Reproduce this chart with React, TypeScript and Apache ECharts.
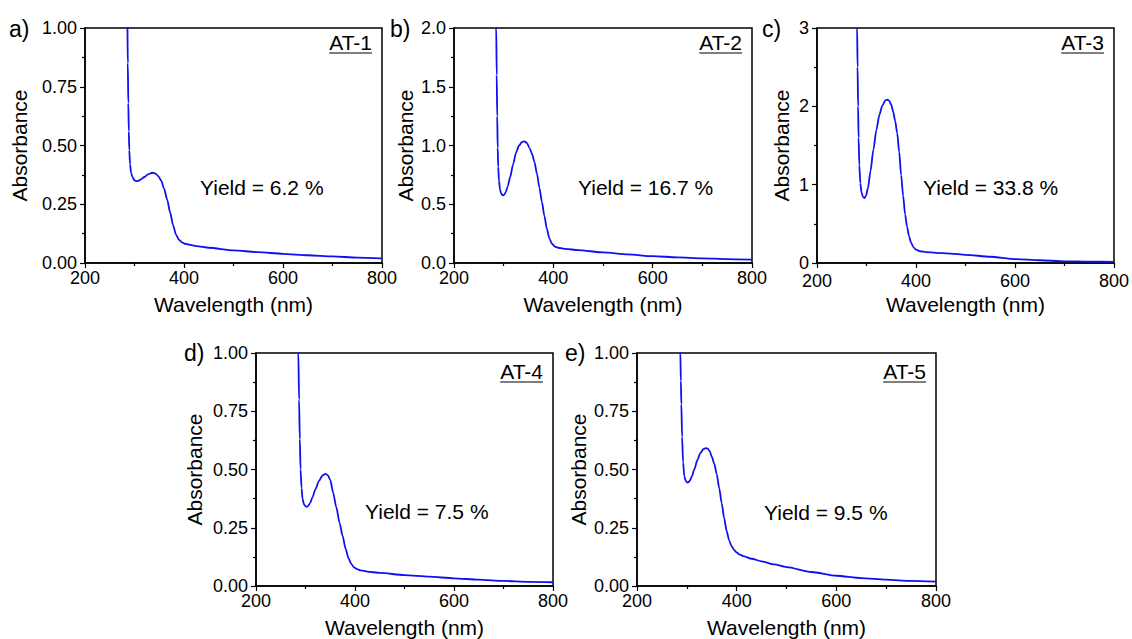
import React, { useEffect, useRef } from 'react';
import * as echarts from 'echarts';

const panelLabels = ['a)', 'b)', 'c)', 'd)', 'e)'];
const sampleNames = ['AT-1', 'AT-2', 'AT-3', 'AT-4', 'AT-5'];
const yieldTexts = ['Yield = 6.2 %', 'Yield = 16.7 %', 'Yield = 33.8 %', 'Yield = 7.5 %', 'Yield = 9.5 %'];
const yMaxes = [1, 2, 3, 1, 1];
const yIntervals = [0.25, 0.5, 1, 0.25, 0.25];
const yDecimals = [2, 1, 0, 2, 2];
const xMin = 200;
const xMax = 800;
const xInterval = 200;
const xTitle = 'Wavelength (nm)';
const yTitle = 'Absorbance';

const wlAT1 = [284, 285.5, 286.5, 287.5, 288.5, 289.5, 291, 293, 296, 300, 304, 308, 313, 320, 328, 336, 342, 348, 354, 360, 366, 372, 378, 384, 390, 396, 402, 410, 425, 450, 500, 550, 600, 650, 700, 750, 800];
const absAT1 = [1.3, 1.05, 0.85, 0.68, 0.56, 0.48, 0.42, 0.385, 0.365, 0.352, 0.348, 0.35, 0.356, 0.366, 0.378, 0.384, 0.381, 0.37, 0.35, 0.315, 0.27, 0.215, 0.16, 0.12, 0.098, 0.088, 0.082, 0.078, 0.072, 0.065, 0.054, 0.046, 0.039, 0.033, 0.028, 0.023, 0.02];

const wlAT2 = [283.5, 285, 286, 287, 288, 289, 290.5, 292.5, 295, 298, 301, 304, 308, 313, 319, 325, 331, 337, 342, 347, 352, 357, 362, 367, 372, 377, 382, 387, 392, 397, 403, 410, 425, 450, 500, 550, 600, 650, 700, 750, 800];
const absAT2 = [2.4, 2.0, 1.6, 1.25, 0.98, 0.82, 0.7, 0.63, 0.59, 0.575, 0.58, 0.6, 0.65, 0.73, 0.84, 0.94, 1.0, 1.03, 1.035, 1.02, 0.98, 0.93, 0.86, 0.76, 0.64, 0.52, 0.4, 0.29, 0.21, 0.165, 0.14, 0.13, 0.12, 0.11, 0.09, 0.073, 0.058, 0.048, 0.04, 0.033, 0.028];

const wlAT3 = [279.5, 281, 282, 283, 284, 285.5, 287.5, 290, 293, 296, 299, 303, 308, 314, 320, 326, 332, 338, 342, 346, 350, 354, 358, 362, 366, 370, 374, 378, 382, 386, 390, 395, 400, 408, 420, 440, 470, 500, 550, 600, 650, 700, 750, 800];
const absAT3 = [3.5, 3.0, 2.5, 2.0, 1.6, 1.25, 1.02, 0.9, 0.84, 0.83, 0.86, 0.96, 1.17, 1.45, 1.7, 1.89, 2.01, 2.075, 2.085, 2.07, 2.02, 1.93, 1.81, 1.66, 1.42, 1.12, 0.86, 0.62, 0.46, 0.34, 0.26, 0.2, 0.17, 0.15, 0.14, 0.13, 0.12, 0.105, 0.08, 0.05, 0.035, 0.022, 0.017, 0.014];

const wlAT4 = [284, 285.5, 287, 288.5, 290, 292, 294, 297, 300, 302, 305, 309, 314, 320, 327, 334, 340, 345, 350, 356, 362, 369, 375, 381, 387, 393, 398, 404, 412, 425, 450, 500, 550, 600, 650, 700, 750, 800];
const absAT4 = [1.3, 1.0, 0.8, 0.63, 0.5, 0.42, 0.375, 0.35, 0.342, 0.34, 0.343, 0.355, 0.38, 0.415, 0.45, 0.474, 0.481, 0.476, 0.455, 0.4, 0.34, 0.27, 0.215, 0.16, 0.118, 0.093, 0.08, 0.072, 0.067, 0.062, 0.056, 0.047, 0.04, 0.033, 0.027, 0.022, 0.018, 0.016];

const wlAT5 = [286, 287, 288, 289, 290.5, 292.5, 295, 298, 300.5, 303, 306, 310, 315, 321, 327, 333, 338, 342, 346, 350, 355, 360, 365, 370, 375, 380, 385, 390, 395, 400, 405, 415, 430, 450, 475, 500, 550, 600, 650, 700, 750, 800];
const absAT5 = [1.3, 1.0, 0.88, 0.78, 0.64, 0.53, 0.47, 0.45, 0.444, 0.445, 0.452, 0.47, 0.5, 0.54, 0.57, 0.587, 0.592, 0.59, 0.578, 0.555, 0.525, 0.48, 0.42, 0.355, 0.29, 0.235, 0.195, 0.17, 0.155, 0.144, 0.136, 0.127, 0.117, 0.106, 0.093, 0.081, 0.06, 0.044, 0.034, 0.027, 0.022, 0.019];

const wavelengths = [wlAT1, wlAT2, wlAT3, wlAT4, wlAT5];
const absorbances = [absAT1, absAT2, absAT3, absAT4, absAT5];

// layout (pixels)
const grids = [
  { left: 85, top: 28, width: 297, height: 235 },
  { left: 454, top: 28, width: 298, height: 235 },
  { left: 817, top: 28, width: 297, height: 235 },
  { left: 256, top: 353, width: 297, height: 235 },
  { left: 637, top: 353, width: 299, height: 235 },
];
const yNameGaps = [55, 38, 25, 51, 48];
const xLabelMargins = [8, 8, 11, 8, 8];
const labelPos = [[9, 29], [390, 29], [762, 29], [184, 353], [565, 353]];
const yieldPos = [[200, 187], [578, 187], [923, 187], [365, 511], [764, 512]];

const FONT = '"Liberation Sans", Arial, Helvetica, sans-serif';
const TICK_SIZE = 18;
const TITLE_SIZE = 21;
const NOTE_SIZE = 21;

function measure(text: string, size: number) {
  const c = document.createElement('canvas').getContext('2d');
  if (!c) return text.length * size * 0.55;
  c.font = `${size}px ${FONT}`;
  return c.measureText(text).width;
}

export default function App() {
  const ref = useRef<HTMLDivElement>(null);
  useEffect(() => {
    document.body.style.margin = '0';
    const chart = echarts.init(ref.current!, null, { renderer: 'svg' });
    const gridOpts = grids.map((g) => ({
      ...g,
      show: true,
      borderColor: '#000',
      borderWidth: 1.5,
      backgroundColor: 'transparent',
      containLabel: false,
    }));
    const xAxes = grids.map((_, i) => ({
      type: 'value',
      gridIndex: i,
      min: xMin,
      max: xMax,
      interval: xInterval,
      name: xTitle,
      nameLocation: 'middle',
      nameGap: 31,
      nameTextStyle: { fontSize: TITLE_SIZE, color: '#000', fontFamily: FONT },
      axisLine: { show: true, onZero: false, lineStyle: { color: '#000', width: 1.5 } },
      axisTick: { show: true, inside: false, length: 5, lineStyle: { color: '#000', width: 1.2 } },
      minorTick: { show: true, splitNumber: 2, length: 3, lineStyle: { color: '#000', width: 1.2 } },
      splitLine: { show: false },
      axisLabel: { color: '#000', fontSize: TICK_SIZE, fontFamily: FONT, margin: xLabelMargins[i], lineHeight: 14 },
    }));
    const yAxes = grids.map((_, i) => ({
      type: 'value',
      gridIndex: i,
      min: 0,
      max: yMaxes[i],
      interval: yIntervals[i],
      name: yTitle,
      nameLocation: 'middle',
      nameGap: yNameGaps[i],
      nameTextStyle: { fontSize: TITLE_SIZE, color: '#000', fontFamily: FONT },
      axisLine: { show: true, onZero: false, lineStyle: { color: '#000', width: 1.5 } },
      axisTick: { show: true, inside: false, length: 5, lineStyle: { color: '#000', width: 1.2 } },
      minorTick: { show: true, splitNumber: 2, length: 3, lineStyle: { color: '#000', width: 1.2 } },
      splitLine: { show: false },
      axisLabel: {
        color: '#000',
        fontSize: TICK_SIZE,
        fontFamily: FONT,
        margin: 8,
        lineHeight: 14,
        formatter: (v: number) => v.toFixed(yDecimals[i]),
      },
    }));
    const series = wavelengths.map((wl, i) => ({
      type: 'line',
      xAxisIndex: i,
      yAxisIndex: i,
      data: wl.map((x, j) => [x, absorbances[i][j]]),
      showSymbol: false,
      symbol: 'none',
      smooth: 0.25,
      smoothMonotone: 'x',
      clip: true,
      lineStyle: { color: '#1010ee', width: 1.8 },
    }));
    const graphics: any[] = [];
    grids.forEach((g, i) => {
      graphics.push({
        type: 'text',
        x: labelPos[i][0],
        y: labelPos[i][1],
        style: { text: panelLabels[i], fontSize: 23, fontFamily: FONT, fill: '#000', verticalAlign: 'middle' },
      });
      const right = g.left + g.width - 10;
      const isTop = i < 3;
      const cy = isTop ? 42 : 371;
      const w = measure(sampleNames[i], NOTE_SIZE);
      graphics.push({
        type: 'text',
        x: right,
        y: cy,
        style: { text: sampleNames[i], fontSize: NOTE_SIZE, fontFamily: FONT, fill: '#000', align: 'right', verticalAlign: 'middle' },
      });
      graphics.push({
        type: 'line',
        shape: { x1: right - w, y1: cy + 11, x2: right, y2: cy + 11 },
        style: { stroke: '#000', lineWidth: 1.2 },
      });
      graphics.push({
        type: 'text',
        x: yieldPos[i][0],
        y: yieldPos[i][1],
        style: { text: yieldTexts[i], fontSize: NOTE_SIZE, fontFamily: FONT, fill: '#000', verticalAlign: 'middle' },
      });
    });
    chart.setOption({
      animation: false,
      backgroundColor: '#fff',
      grid: gridOpts,
      xAxis: xAxes,
      yAxis: yAxes,
      series,
      graphic: graphics,
    } as any);
    return () => chart.dispose();
  }, []);
  return (
    <div
      ref={ref}
      style={{ position: 'absolute', left: 0, top: 0, width: 1132, height: 639, background: '#fff' }}
    />
  );
}
